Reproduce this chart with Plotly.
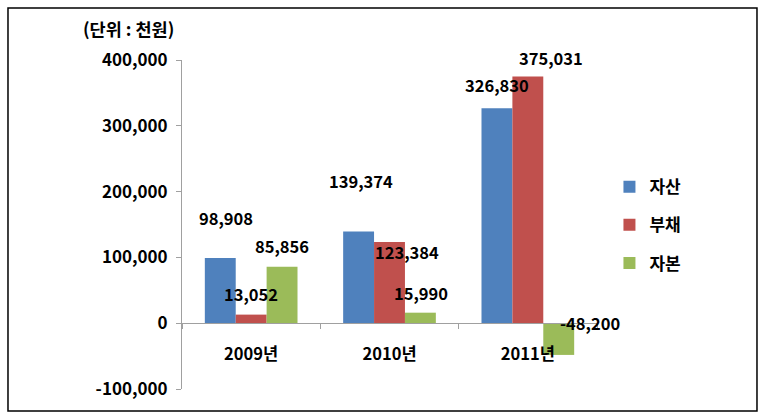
import plotly.graph_objects as go

categories = ["2009년", "2010년", "2011년"]
series_names = ["자산", "부채", "자본"]
assets = [98908, 139374, 326830]
liabilities = [13052, 123384, 375031]
equity = [85856, 15990, -48200]
y_tick_vals = [-100000, 0, 100000, 200000, 300000, 400000]
y_tick_text = ["-100,000", "0", "100,000", "200,000", "300,000", "400,000"]

colors = ["#4F81BD", "#C0504D", "#9BBB59"]
series_values = [assets, liabilities, equity]
# label offsets in pixels (style only): [series][category] -> (xshift, yshift)
label_offsets = [
    [(6, 40), (2, 50), (0, 23)],
    [(0, 21), (17, -10), (23, 18)],
    [(0, 21), (0, 20), (31, 32)],
]
group_shift = [-31, 0, 31]

FONT = "Noto Sans CJK KR"

fig = go.Figure()
for i, (name, vals) in enumerate(zip(series_names, series_values)):
    fig.add_trace(go.Bar(
        x=categories, y=vals, name=name, marker_color=colors[i],
        marker_line_width=0, legendgroup=name,
    ))

def fmt(v):
    s = f"{abs(v):,}"
    return ("-" + s) if v < 0 else s

annotations = []
for i, vals in enumerate(series_values):
    for j, v in enumerate(vals):
        dx, dy = label_offsets[i][j]
        annotations.append(dict(
            x=categories[j], y=v, xref="x", yref="y", text=fmt(v),
            showarrow=False, xshift=group_shift[i] + dx, yshift=dy,
            xanchor="center", yanchor="middle",
            font=dict(family=FONT, size=16.5, color="black", weight="bold"),
        ))

annotations.append(dict(
    x=-0.128, y=1.097, xref="paper", yref="paper", text="(단위 : 천원)",
    showarrow=False, xanchor="center", yanchor="middle",
    font=dict(family=FONT, size=17.5, color="black", weight="bold"),
))

fig.update_layout(
    width=764, height=419,
    margin=dict(l=182, r=167, t=60, b=30),
    paper_bgcolor="white", plot_bgcolor="white",
    barmode="group", bargap=0.33, bargroupgap=0,
    showlegend=True,
    legend=dict(
        x=1.03, y=0.498, xanchor="left", yanchor="middle",
        font=dict(family=FONT, size=17, color="black", weight="bold"),
        tracegroupgap=13, traceorder="grouped",
        bgcolor="rgba(0,0,0,0)",
    ),
    annotations=annotations,
    xaxis=dict(
        type="category", range=[-0.5, 2.5],
        anchor="free", position=0.2,
        showline=True, linecolor="#A0A0A0", linewidth=1,
        ticks="outside", tickson="boundaries", ticklen=5, tickcolor="#A0A0A0",
        ticklabelstandoff=16,
        tickfont=dict(family=FONT, size=16.5, color="black", weight="bold"),
        showgrid=False, zeroline=False,
    ),
    yaxis=dict(
        range=[-100000, 400000],
        tickvals=y_tick_vals, ticktext=y_tick_text,
        showline=True, linecolor="#A0A0A0", linewidth=1,
        ticks="outside", ticklen=5, tickcolor="#A0A0A0",
        ticklabelstandoff=5,
        tickfont=dict(family=FONT, size=17, color="black", weight="bold"),
        showgrid=False, zeroline=False,
    ),
    shapes=[dict(
        type="rect", xref="paper", yref="paper",
        x0=-0.4193, x1=1.3855, y0=-0.0669, y1=1.158,
        line=dict(color="black", width=1.5), fillcolor="rgba(0,0,0,0)",
        layer="below",
    )],
)

fig.write_html("out.html", config={"displayModeBar": False},
               post_script="document.body.style.margin='0';")
